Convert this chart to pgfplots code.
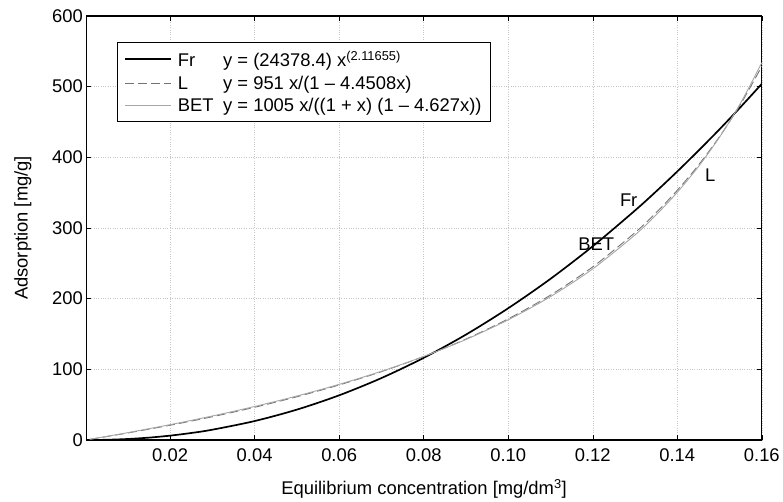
\documentclass[border=0pt]{standalone}
\usepackage{fontspec}
\setmainfont{Liberation Sans}
\usepackage{pgfplots}
\pgfplotsset{compat=1.18}
\begin{document}
\begin{tikzpicture}
\begin{axis}[
	name=ax,
	scale only axis,
	width=680pt, height=427pt,
	xmin=0.0002, xmax=0.16,
	ymin=0, ymax=600,
	xtick={0.02,0.04,...,0.16},
	ytick={0,100,...,600},
	xticklabel style={/pgf/number format/fixed, /pgf/number format/fixed zerofill,
		/pgf/number format/precision=2, yshift=-5pt},
	/pgf/number format/assume math mode=true,
	tick align=inside,
	major tick length=5pt,
	tick style={black, thin},
	axis line style={black, line width=1.3pt},
	grid=major,
	major grid style={black!22, dotted, thin},
	font=\fontsize{18.5}{22}\selectfont,
	xlabel={Equilibrium concentration [mg/dm\textsuperscript{3}]},
	ylabel={Adsorption [mg/g]},
	xlabel style={at={(axis description cs:0.5,0)}, anchor=base, yshift=-55pt},
	ylabel style={at={(axis description cs:-0.094,0.5)}, anchor=center},
	legend style={at={(0.0456,0.9375)}, anchor=north west, draw=black, line width=0.8pt,
		font=\fontsize{18.5}{22}\selectfont, cells={anchor=west},
		inner xsep=7pt, inner ysep=6pt, row sep=4pt},
	legend cell align=left,
	legend image code/.code={\draw[#1] (0pt,0pt) -- (46pt,0pt); \path (50pt,0pt);},
]
% Freundlich
\addplot[black, line width=1.7pt, smooth] coordinates {
(0.001,0.011) (0.005,0.329) (0.01,1.425) (0.015,3.36) (0.02,6.18) (0.025,9.91)
(0.03,14.58) (0.04,26.80) (0.05,42.98) (0.06,63.22) (0.07,87.63) (0.08,116.24)
(0.09,149.1) (0.10,186.4) (0.11,228.0) (0.12,274.1) (0.13,324.7) (0.135,351.7)
(0.14,379.9) (0.145,409.3) (0.15,439.6) (0.155,471.2) (0.16,503.9)};
\addlegendentry{\makebox[45.6pt][l]{Fr}y = (24378.4) x\textsuperscript{(2.11655)}}
% Langmuir
\addplot[black!55, line width=0.9pt, dash pattern=on 9pt off 4pt, smooth] coordinates {
(0.001,0.955) (0.005,4.863) (0.01,9.953) (0.02,20.88) (0.03,32.93) (0.04,46.28)
(0.05,61.16) (0.06,77.85) (0.07,96.70) (0.08,118.15) (0.09,142.79) (0.10,171.38)
(0.11,204.95) (0.12,244.94) (0.13,293.38) (0.135,321.65) (0.14,353.26)
(0.145,388.8) (0.15,429.18) (0.155,475.3) (0.16,528.57)};
\addlegendentry{\makebox[45.6pt][l]{L}y = 951 x/(1 -- 4.4508x)}
% BET
\addplot[black!35, line width=0.9pt, smooth] coordinates {
(0.001,1.009) (0.005,5.118) (0.01,10.43) (0.02,21.72) (0.03,33.99) (0.04,47.43)
(0.05,62.26) (0.06,78.75) (0.07,97.24) (0.08,118.20) (0.09,142.20) (0.10,170.04)
(0.11,202.83) (0.12,242.11) (0.13,290.14) (0.135,318.47) (0.14,350.41)
(0.145,386.74) (0.15,428.46) (0.155,476.88) (0.16,533.81)};
\addlegendentry{\makebox[45.6pt][l]{BET}y = 1005 x/((1 + x) (1 -- 4.627x))\hspace{14pt}}
\node[font=\fontsize{18.5}{22}\selectfont] at (axis cs:0.1285,339) {Fr};
\node[font=\fontsize{18.5}{22}\selectfont] at (axis cs:0.1478,374) {L};
\node[font=\fontsize{18.5}{22}\selectfont] at (axis cs:0.1208,277) {BET};
\end{axis}
\path (ax.south west) ++(-87pt,-59pt);
\path (ax.north east) ++(16pt,16pt);
\end{tikzpicture}
\end{document}
